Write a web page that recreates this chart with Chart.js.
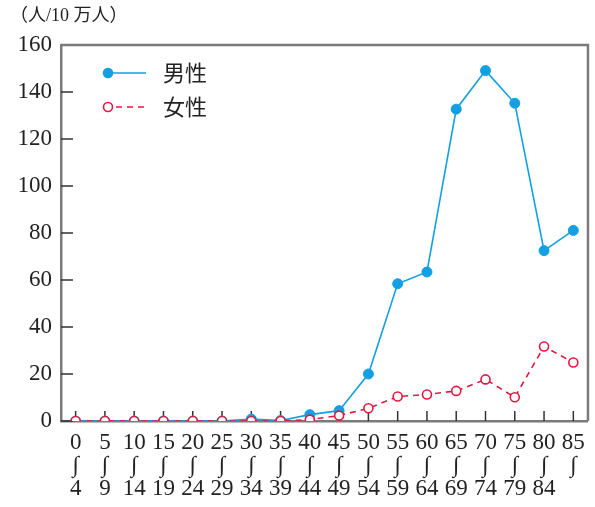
<!DOCTYPE html>
<html>
<head>
<meta charset="utf-8">
<script src="https://cdn.jsdelivr.net/npm/chart.js@4.4.1/dist/chart.umd.min.js"></script>
<style>
  html, body { margin: 0; padding: 0; background: #fff; }
</style>
</head>
<body>
<canvas id="chart" width="595" height="507"></canvas>
<script>
// age groups (start / end of each 5-year band)
const ageStarts = ['0', '5', '10', '15', '20', '25', '30', '35', '40', '45', '50', '55', '60', '65', '70', '75', '80', '85'];
const ageEnds = ['4', '9', '14', '19', '24', '29', '34', '39', '44', '49', '54', '59', '64', '69', '74', '79', '84', ''];
// rate per 100,000
const maleRates = [0, 0, 0, 0, 0, 0, 0.8, 0.2, 2.7, 4.4, 20.0, 58.4, 63.4, 132.7, 149.1, 135.2, 72.5, 81.1];
const femaleRates = [0, 0, 0, 0, 0, 0, 0, 0, 0.6, 2.3, 5.4, 10.4, 11.3, 12.8, 17.7, 10.1, 31.7, 24.9];
const seriesNames = ['男性', '女性'];
const unitLabel = '（人/10 万人）';
const rangeMark = '∫';

const BLUE = '#12a0e3';
const RED = '#e3173f';
const AXIS = '#7a7a7a';
const NUM_FONT = '"Liberation Serif", "DejaVu Serif", serif';
const CJK_FONT = '"Liberation Serif", "Noto Sans CJK JP", serif';

const framePlugin = {
  id: 'frameAndTicks',
  beforeDatasetsDraw: (chart) => {
    const {ctx, chartArea: {top, bottom, left, right}, scales: {x, y}} = chart;
    ctx.save();
    // inward tick marks
    ctx.strokeStyle = '#333';
    ctx.lineWidth = 1.5;
    ctx.beginPath();
    y.ticks.forEach(t => {
      const py = y.getPixelForValue(t.value);
      ctx.moveTo(left, py);
      ctx.lineTo(left + 12, py);
    });
    x.ticks.forEach((t, i) => {
      const px = x.getPixelForTick(i);
      ctx.moveTo(px, bottom);
      ctx.lineTo(px, bottom - 10);
    });
    ctx.stroke();
    // top and right side of the box
    ctx.strokeStyle = AXIS;
    ctx.lineWidth = 2.5;
    ctx.beginPath();
    ctx.moveTo(left, top);
    ctx.lineTo(right, top);
    ctx.lineTo(right, bottom);
    ctx.stroke();
    ctx.restore();
  },
  afterDraw: (chart) => {
    const {ctx} = chart;
    ctx.save();
    // unit label
    ctx.fillStyle = '#222';
    ctx.font = '18px ' + CJK_FONT;
    ctx.textBaseline = 'middle';
    ctx.textAlign = 'left';
    ctx.fillText(unitLabel, 10, 16);
    // legend
    const rows = [73, 107];
    chart.data.datasets.forEach((ds, i) => {
      const yy = rows[i];
      ctx.strokeStyle = ds.borderColor;
      ctx.lineWidth = 1.6;
      ctx.setLineDash(ds.borderDash || []);
      ctx.beginPath();
      ctx.moveTo(i === 0 ? 107 : 116, yy);
      ctx.lineTo(146, yy);
      ctx.stroke();
      ctx.setLineDash([]);
      ctx.beginPath();
      ctx.arc(108, yy, 4.5, 0, Math.PI * 2);
      ctx.fillStyle = ds.pointBackgroundColor;
      ctx.fill();
      ctx.lineWidth = 1.6;
      ctx.strokeStyle = ds.pointBorderColor;
      ctx.stroke();
      ctx.fillStyle = '#222';
      ctx.font = '22px "Noto Sans CJK JP", sans-serif';
      ctx.fillText(ds.label, 163, yy);
    });
    ctx.restore();
  }
};

const ctx = document.getElementById('chart');
const myChart = new Chart(ctx, {
  type: 'line',
  data: {
    labels: ageStarts.map((s, i) => [s, rangeMark, ageEnds[i]]),
    datasets: [{
      label: seriesNames[0],
      data: maleRates,
      borderColor: BLUE,
      borderWidth: 1.6,
      pointRadius: 5,
      pointBackgroundColor: BLUE,
      pointBorderColor: BLUE,
      pointBorderWidth: 1,
      order: 1,
    }, {
      label: seriesNames[1],
      data: femaleRates,
      borderColor: RED,
      borderWidth: 1.6,
      borderDash: [6, 5],
      pointRadius: 4.5,
      pointBackgroundColor: '#ffffff',
      pointBorderColor: RED,
      pointBorderWidth: 1.6,
      order: 0,
    }]
  },
  options: {
    responsive: false,
    animation: false,
    layout: {padding: {top: 45, right: 5, left: 0, bottom: 0}},
    plugins: {
      legend: {display: false},
      tooltip: {enabled: false},
    },
    scales: {
      x: {
        offset: true,
        grid: {display: false, drawTicks: false},
        border: {display: true, color: AXIS, width: 2.5},
        ticks: {
          padding: 10,
          color: '#222',
          autoSkip: false,
          maxRotation: 0,
          font: {family: NUM_FONT, size: 23, lineHeight: 1.0},
        },
        afterFit: (scale) => { scale.height = 86; },
      },
      y: {
        min: 0,
        max: 160,
        grid: {display: false, drawTicks: false},
        border: {display: true, color: AXIS, width: 2.5},
        ticks: {
          stepSize: 20,
          padding: 9,
          color: '#222',
          font: {family: NUM_FONT, size: 23},
        },
        afterFit: (scale) => { scale.width = 61; },
      },
    },
  },
  plugins: [framePlugin],
});
</script>
</body>
</html>
